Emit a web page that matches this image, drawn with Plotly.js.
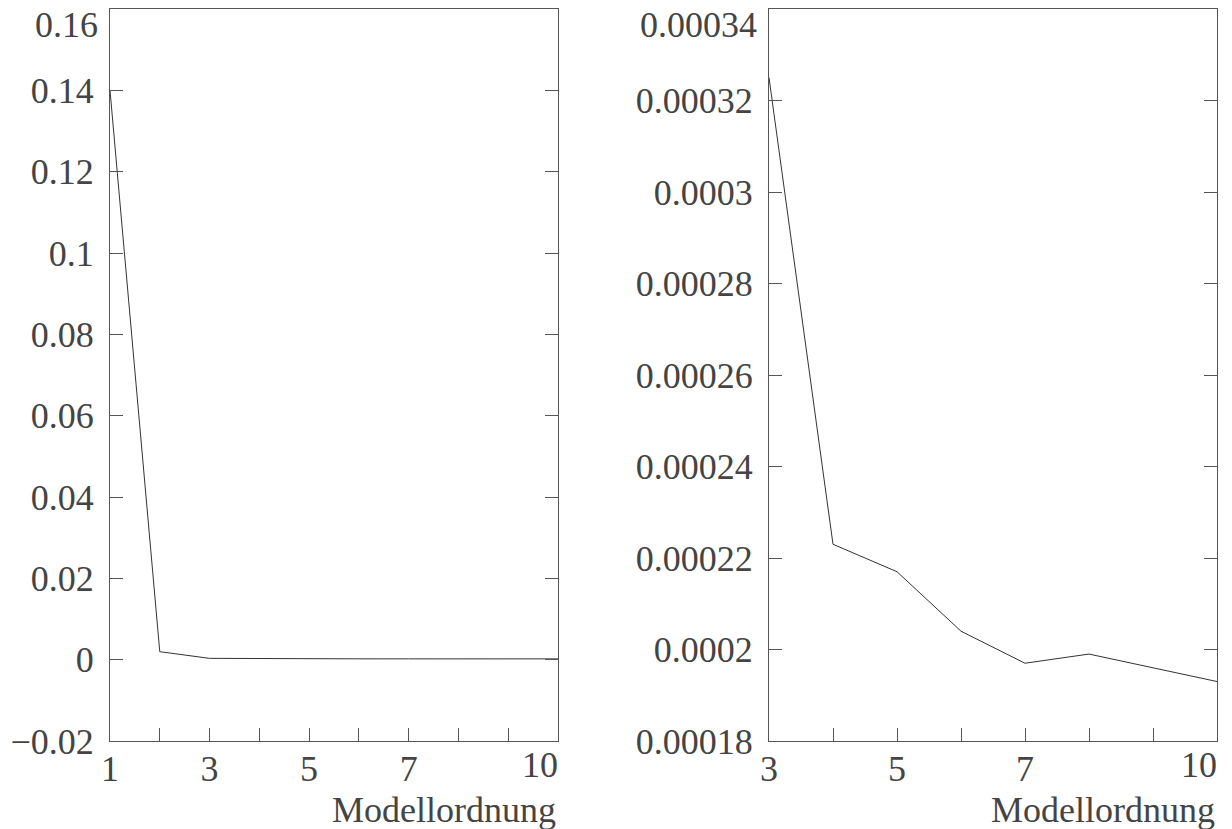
<!DOCTYPE html>
<html>
<head>
<meta charset="utf-8">
<script src="https://cdn.plot.ly/plotly-3.0.1.min.js"></script>
<style>html,body{margin:0;padding:0;background:#fff;}#chart{width:1232px;height:829px;}</style>
</head>
<body>
<div id="chart"></div>
<script>
// Data
const ordersLeft = [1, 2, 3, 4, 5, 6, 7, 8, 9, 10];
const errorLeft = [0.14, 0.00196, 0.000325, 0.000223, 0.000217, 0.000204, 0.000197, 0.000199, 0.000196, 0.000193];
const ordersRight = [3, 4, 5, 6, 7, 8, 9, 10];
const errorRight = [0.000325, 0.000223, 0.000217, 0.000204, 0.000197, 0.000199, 0.000196, 0.000193];

const xTickValsLeft = [1, 2, 3, 4, 5, 6, 7, 8, 9, 10];
const xTickTextLeft = ['1', '', '3', '', '5', '', '7', '', '', ''];
const xLastLabelLeft = '10';
const xTickValsRight = [3, 4, 5, 6, 7, 8, 9, 10];
const xTickTextRight = ['3', '', '5', '', '7', '', '', ''];
const xLastLabelRight = '10';

const yTickValsLeft = [-0.02, 0, 0.02, 0.04, 0.06, 0.08, 0.1, 0.12, 0.14, 0.16];
const yTickTextLeft = ['\u22120.02', '0', '0.02', '0.04', '0.06', '0.08', '0.1', '0.12', '0.14', ''];
const yTopLabelLeft = '0.16';
const yTickValsRight = [0.00018, 0.0002, 0.00022, 0.00024, 0.00026, 0.00028, 0.0003, 0.00032, 0.00034];
const yTickTextRight = ['0.00018', '0.0002', '0.00022', '0.00024', '0.00026', '0.00028', '0.0003', '0.00032', ''];
const yTopLabelRight = '0.00034';
const xTitle = 'Modellordnung';

const FONT = 'Liberation Serif, Times New Roman, serif';
const TXT = '#444444';
const AX = '#555555';
const tf = {family: FONT, size: 36, color: TXT};

const traces = [
  {x: ordersLeft, y: errorLeft, type: 'scatter', mode: 'lines',
   line: {color: '#333333', width: 1}, xaxis: 'x', yaxis: 'y', hoverinfo: 'skip'},
  {x: ordersRight, y: errorRight, type: 'scatter', mode: 'lines',
   line: {color: '#333333', width: 1}, xaxis: 'x2', yaxis: 'y2', hoverinfo: 'skip'}
];

function xAxis(domain, range, vals, text, anchor) {
  return {domain: domain, range: range, anchor: anchor, tickmode: 'array', tickvals: vals, ticktext: text,
    ticks: 'inside', ticklen: 13, tickcolor: AX, tickwidth: 1, showline: true, linecolor: AX, linewidth: 1,
    mirror: true, showgrid: false, zeroline: false, ticklabelstandoff: -4,
    tickfont: tf};
}
function yAxis(range, vals, text, anchor) {
  return {domain: [0, 1], range: range, anchor: anchor, tickmode: 'array', tickvals: vals, ticktext: text,
    ticks: 'inside', ticklen: 13, tickcolor: AX, tickwidth: 1, showline: true, linecolor: AX, linewidth: 1,
    mirror: 'ticks', showgrid: false, zeroline: false, ticklabelstandoff: 8,
    tickfont: tf};
}

const layout = {
  width: 1232, height: 829,
  margin: {l: 0, r: 0, t: 9, b: 88, pad: 0},
  paper_bgcolor: '#ffffff', plot_bgcolor: '#ffffff',
  showlegend: false,
  xaxis: xAxis([110/1232, 558/1232], [1, 10], xTickValsLeft, xTickTextLeft, 'y'),
  yaxis: yAxis([-0.02, 0.16], yTickValsLeft, yTickTextLeft, 'x'),
  xaxis2: xAxis([769/1232, 1217/1232], [3, 10], xTickValsRight, xTickTextRight, 'y2'),
  yaxis2: yAxis([0.00018, 0.00034], yTickValsRight, yTickTextRight, 'x2'),
  annotations: [
    {text: xTitle, xref: 'x domain', yref: 'y domain', x: 1, y: 0, xanchor: 'right', yanchor: 'top',
     yshift: -47, showarrow: false, font: tf},
    {text: xTitle, xref: 'x2 domain', yref: 'y2 domain', x: 1, y: 0, xanchor: 'right', yanchor: 'top',
     yshift: -47, showarrow: false, font: tf},
    {text: xLastLabelLeft, xref: 'x domain', yref: 'y domain', x: 1, y: 0, xanchor: 'right', yanchor: 'top',
     xshift: 2, yshift: -2, showarrow: false, font: tf},
    {text: xLastLabelRight, xref: 'x2 domain', yref: 'y2 domain', x: 1, y: 0, xanchor: 'right', yanchor: 'top',
     xshift: 2, yshift: -2, showarrow: false, font: tf},
    {text: yTopLabelLeft, xref: 'x domain', yref: 'y domain', x: 0, y: 1, xanchor: 'right', yanchor: 'top',
     xshift: -10, yshift: 6, showarrow: false, font: tf},
    {text: yTopLabelRight, xref: 'x2 domain', yref: 'y2 domain', x: 0, y: 1, xanchor: 'right', yanchor: 'top',
     xshift: -10, yshift: 6, showarrow: false, font: tf}
  ]
};

Plotly.newPlot('chart', traces, layout, {staticPlot: true, displayModeBar: false});
</script>
</body>
</html>
